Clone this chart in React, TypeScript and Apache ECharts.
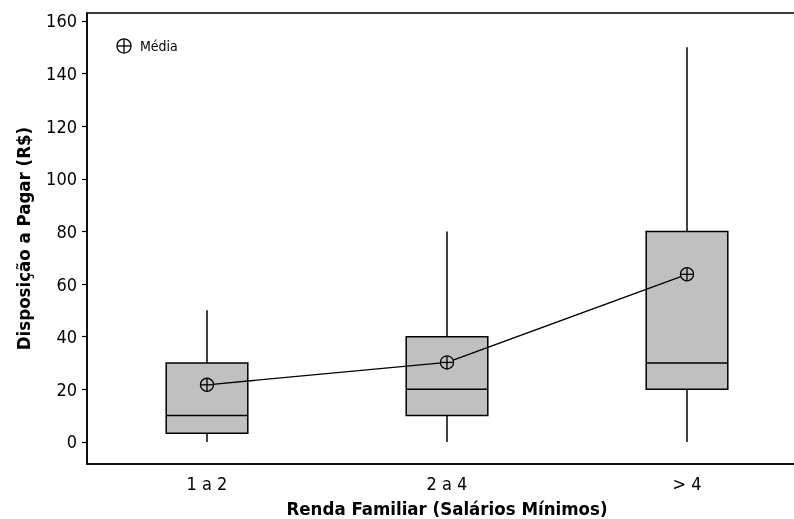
import React, { useEffect, useRef } from "react";
import * as echarts from "echarts";

const categories = ["1 a 2", "2 a 4", "> 4"];
// [low whisker, Q1, median, Q3, high whisker]
const boxLow = [0, 0, 0];
const boxQ1 = [3.3, 10, 20];
const boxMedian = [10, 20, 30];
const boxQ3 = [30, 40, 80];
const boxHigh = [50, 80, 150];
const means = [21.7, 30.2, 63.7];
const yTicks = [0, 20, 40, 60, 80, 100, 120, 140, 160];

const FONT = "DejaVu Sans Condensed";

export default function App() {
  const ref = useRef<HTMLDivElement>(null);
  useEffect(() => {
    if (!ref.current) return;
    const chart = echarts.init(ref.current, null, { renderer: "svg" });
    const boxData = categories.map((_, i) => [i, boxLow[i], boxQ1[i], boxMedian[i], boxQ3[i], boxHigh[i]]);
    const meanData = categories.map((_, i) => [i, means[i]]);
    chart.setOption({
      animation: false,
      grid: {
        left: 87, top: 13, width: 720, height: 451, show: true,
        borderColor: "#000", borderWidth: 1.5, backgroundColor: "transparent",
        outerBoundsMode: "none", containLabel: false,
      },
      xAxis: {
        type: "category",
        data: categories,
        boundaryGap: true,
        axisLine: { onZero: false, lineStyle: { color: "#000", width: 1.5 } },
        axisTick: { alignWithLabel: true, length: 5, lineStyle: { color: "#000", width: 1.2 } },
        axisLabel: { color: "#000", fontFamily: FONT, fontSize: 18, margin: 10 },
        name: "Renda Familiar (Salários Mínimos)",
        nameLocation: "middle",
        nameGap: 35,
        nameTextStyle: { color: "#000", fontFamily: FONT, fontSize: 18.5, fontWeight: "bold" },
        splitLine: { show: false },
      },
      yAxis: {
        type: "value",
        min: -8.4,
        max: 163,
        axisLine: { show: true, lineStyle: { color: "#000", width: 1.5 } },
        axisTick: { show: true, length: 5, customValues: yTicks, lineStyle: { color: "#000", width: 1.2 } },
        axisLabel: { color: "#000", fontFamily: FONT, fontSize: 18, margin: 10, customValues: yTicks },
        splitLine: { show: false },
        name: "Disposição a Pagar (R$)",
        nameLocation: "middle",
        nameGap: 54,
        nameTextStyle: { color: "#000", fontFamily: FONT, fontSize: 18.5, fontWeight: "bold" },
      },
      series: [
        {
          type: "custom",
          data: boxData,
          renderItem: (params: any, api: any) => {
            const idx = api.value(0);
            const bw = api.size([1, 0])[0] * 0.34;
            const pLow = api.coord([idx, api.value(1)]);
            const pQ1 = api.coord([idx, api.value(2)]);
            const pMed = api.coord([idx, api.value(3)]);
            const pQ3 = api.coord([idx, api.value(4)]);
            const pHigh = api.coord([idx, api.value(5)]);
            const cx = pMed[0];
            const stroke = { stroke: "#000", lineWidth: 1.5 };
            return {
              type: "group",
              children: [
                { type: "line", shape: { x1: cx, y1: pLow[1], x2: cx, y2: pQ1[1] }, style: stroke },
                { type: "line", shape: { x1: cx, y1: pQ3[1], x2: cx, y2: pHigh[1] }, style: stroke },
                {
                  type: "rect",
                  shape: { x: cx - bw / 2, y: pQ3[1], width: bw, height: pQ1[1] - pQ3[1] },
                  style: { fill: "#c0c0c0", stroke: "#000", lineWidth: 1.5 },
                },
                { type: "line", shape: { x1: cx - bw / 2, y1: pMed[1], x2: cx + bw / 2, y2: pMed[1] }, style: stroke },
              ],
            };
          },
          z: 1,
        },
        {
          type: "line",
          data: meanData,
          showSymbol: false,
          symbol: "none",
          lineStyle: { color: "#000", width: 1.3 },
          z: 2,
        },
        {
          type: "custom",
          data: meanData,
          renderItem: (params: any, api: any) => {
            const p = api.coord([api.value(0), api.value(1)]);
            const r = 6.5;
            const s = { stroke: "#000", lineWidth: 1.3 };
            return {
              type: "group",
              children: [
                { type: "circle", shape: { cx: p[0], cy: p[1], r }, style: { fill: "#c0c0c0", stroke: "#000", lineWidth: 1.3 } },
                { type: "line", shape: { x1: p[0] - r, y1: p[1], x2: p[0] + r, y2: p[1] }, style: s },
                { type: "line", shape: { x1: p[0], y1: p[1] - r, x2: p[0], y2: p[1] + r }, style: s },
              ],
            };
          },
          z: 3,
        },
      ],
      graphic: [
        { type: "circle", shape: { cx: 124, cy: 46, r: 7 }, style: { fill: "#fff", stroke: "#000", lineWidth: 1.3 } },
        { type: "line", shape: { x1: 117, y1: 46, x2: 131, y2: 46 }, style: { stroke: "#000", lineWidth: 1.3 } },
        { type: "line", shape: { x1: 124, y1: 39, x2: 124, y2: 53 }, style: { stroke: "#000", lineWidth: 1.3 } },
        {
          type: "text",
          x: 140,
          y: 46,
          style: { text: "Média", fill: "#000", font: `14px "${FONT}"`, textVerticalAlign: "middle", verticalAlign: "middle" },
        },
      ],
    });
    return () => chart.dispose();
  }, []);
  return (
    <div style={{ position: "fixed", left: 0, top: 0, width: 794, height: 519, overflow: "hidden" }}>
      <div ref={ref} style={{ width: 830, height: 519 }} />
    </div>
  );
}
